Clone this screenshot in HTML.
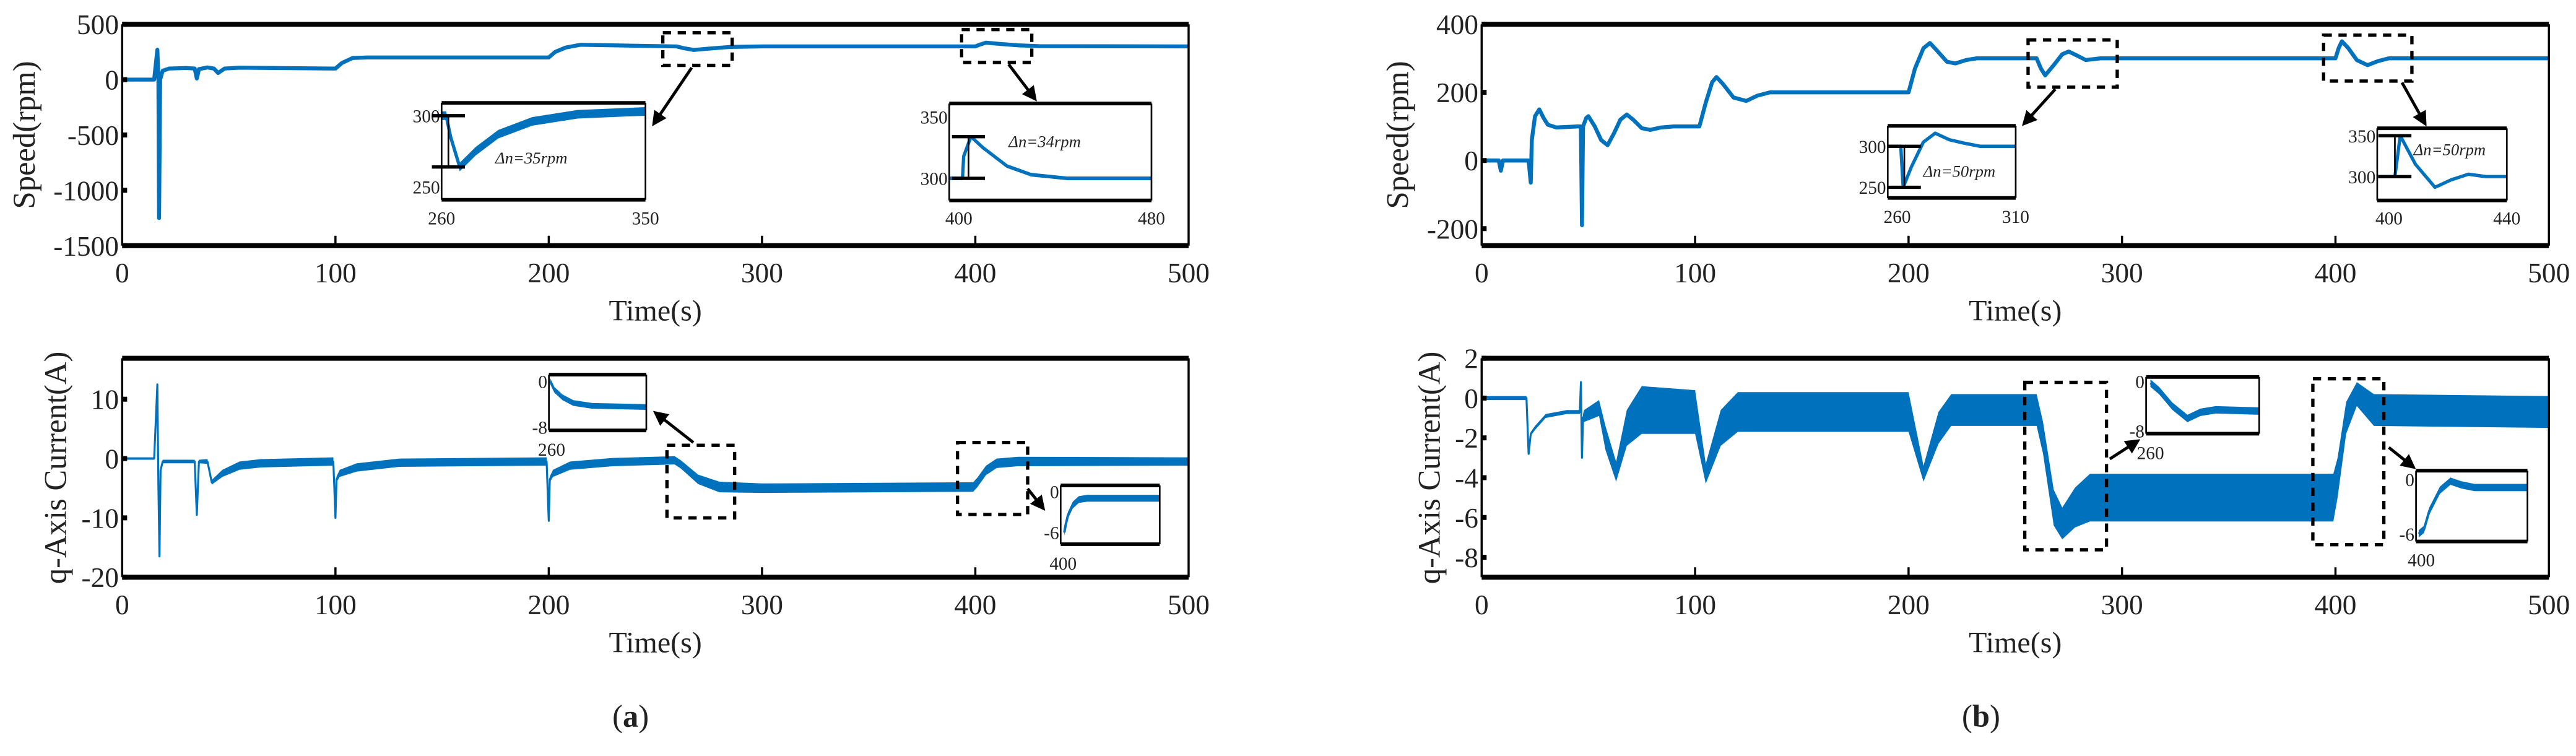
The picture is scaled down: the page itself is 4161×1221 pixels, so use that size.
<!DOCTYPE html>
<html><head><meta charset="utf-8"><style>
html,body{margin:0;padding:0;background:#fff;}
svg{display:block;}
text{font-family:"Liberation Serif",serif;fill:#222;}
</style></head><body>
<svg id="fig" width="4161" height="1221" viewBox="0 0 1560.4 457.9" preserveAspectRatio="none" xmlns="http://www.w3.org/2000/svg">
<defs><marker id="ah" viewBox="0 0 10 10" refX="8" refY="5" markerWidth="5" markerHeight="5" orient="auto"><path d="M0,0 L10,5 L0,10 z" fill="#000"/></marker></defs>
<text x="382" y="440" font-size="19" text-anchor="middle">(<tspan font-weight="bold">a</tspan>)</text>
<text x="1200" y="440" font-size="19" text-anchor="middle">(<tspan font-weight="bold">b</tspan>)</text>
</svg>
<script>
// ---- data: speed (a)
const speedA_t=[0,15,16.5,17,17.3,17.8,19,22,30,34,35,36,40,43,45,48,55,99,100,103,108,115,199,200,203,208,215,259,260,263,268,275,285,300,399,400,402,405,412,420,430,500];
const speedA_v=[0,0,270,0,-1250,0,80,100,105,100,10,95,110,100,60,100,108,100,100,150,195,200,200,200,250,290,315,300,300,285,268,280,295,300,300,300,315,334,322,310,302,300];
// ---- data: speed (b)
const speedB_t=[0,8,9,10,22,23,23.5,25,27,29,31,35,45,46.5,47,47.5,49,50,53,56,59,62,65,68,71,75,79,84,90,102,105,108,110,113,118,124,129,135,200,203,207,210,213,218,222,227,232,260,262,264,268,272,275,279,283,290,400,401.5,403,406,410,415,420,425,500];
const speedB_v=[0,0,-30,0,0,-65,60,130,150,125,105,97,100,100,-190,100,125,130,100,60,45,80,120,135,120,95,90,97,100,100,170,230,245,225,185,175,190,200,200,270,330,345,325,290,285,295,300,300,270,250,280,312,320,308,295,300,300,330,350,330,295,280,292,300,300];
// ---- data: current (a)
const curA_t=[0,15,16.5,17,17.5,18,19,20,34,35,36,40,42,47,55,65,99,100,100.5,102,110,130,199,200,200.5,202,210,230,259,262,270,280,300,399,401,405,410,420,500];
const curA_v=[0,0,12.5,-5,-16.5,-2,-0.5,-0.5,-0.5,-9.5,-0.5,-0.5,-4,-2.5,-1.2,-0.8,-0.5,-10,-3.5,-2.5,-1.5,-0.7,-0.5,-10.5,-3.5,-2.5,-1.2,-0.6,-0.3,-1,-3.5,-4.8,-5,-4.8,-4,-2,-0.8,-0.5,-0.5];
const curA_amp=[0.2,0.2,0.2,0.2,0.2,0.2,0.3,0.3,0.3,0.2,0.3,0.4,0.4,0.6,0.7,0.7,0.7,0.2,0.5,0.6,0.7,0.7,0.7,0.2,0.5,0.6,0.7,0.7,0.7,0.7,0.8,0.9,0.8,0.8,0.8,0.8,0.8,0.8,0.7];
// ---- data: current (b)
const curB_t=[0,21,22,23,25,30,40,46,46.5,47,47.5,48,55,58,63,68,75,100,105,112,120,200,207,214,220,260,263,268,272,278,285,300,399,401,405,410,418,500];
const curB_v=[0,0,-2.8,-1.8,-1.5,-0.9,-0.7,-0.7,0.8,-3,-1,-0.9,-0.5,-2,-3.7,-1.5,-0.6,-0.7,-3.8,-1.5,-0.7,-0.7,-3.8,-1.5,-0.6,-0.6,-2,-5.5,-6.3,-5.5,-5,-5,-5,-4,-1,0.2,-0.6,-0.7];
const curB_amp=[0.1,0.1,0.1,0.1,0.1,0.1,0.1,0.1,0.1,0.1,0.2,0.3,0.4,0.6,0.5,0.9,1.2,1.1,0.5,0.9,1.0,1.0,0.4,0.8,0.8,0.8,0.8,0.9,0.8,1.0,1.2,1.2,1.2,1.0,0.8,0.6,0.8,0.8];
// ---- inset data
const insA1_t=[260,262,264,268,275,285,300,320,350];
const insA1_v=[300,300,285,264,275,287,296,301,303];
const insA2_t=[396,400,401.5,402,405,410,420,430,445,480];
const insA2_v=[300,300,300,318,334,325,310,303,300,300];
const insB1_t=[256,261.5,262.5,266,271,276,282,288,295,310];
const insB1_v=[300,300,250,275,305,316,308,304,300,300];
const insB2_t=[396,402,403.8,409,415.6,421,427,433,440];
const insB2_v=[300,300,350,315,287,296,303,300,300];
const insCA1_t=[259,262,268,276,290,330];
const insCA1_v=[0,-1.5,-2.8,-3.8,-4.3,-4.5];
const insCA2_t=[401,402,404,408,413,420,480];
const insCA2_v=[-6,-5,-3.5,-2,-1.2,-1,-1];
const insCB1_t=[260,264,270,277,283,290,310];
const insCB1_v=[-0.3,-1.5,-4,-6,-5,-4.6,-4.8];
const insCB2_t=[399,401,403,407,411,415,420,440];
const insCB2_v=[-6,-5.5,-3.5,-1.2,-0.2,-0.6,-0.9,-0.9];
const xTicks=[0,100,200,300,400,500];
const speedA_ticks=[500,0,-500,-1000,-1500];
const speedB_ticks=[400,200,0,-200];
const curA_ticks=[10,0,-10,-20];
const curB_ticks=[2,0,-2,-4,-6,-8];

const NS='http://www.w3.org/2000/svg';
const svg=document.getElementById('fig');
const BLUE='#0072BD';
function mk(tag,attrs,name,parent){
  const el=document.createElementNS(NS,tag);
  for(const k in attrs) el.setAttribute(k,attrs[k]);
  
  
  (parent||svg).appendChild(el);
  return el;
}
function scale(d0,d1,r0,r1){return v=>r0+(v-d0)/(d1-d0)*(r1-r0);}
function linePath(ts,vs,sx,sy){return ts.map((t,i)=>(i?'L':'M')+sx(t).toFixed(2)+','+sy(vs[i]).toFixed(2)).join(' ');}
function bandPath(ts,vs,amp,sx,sy){
  let p=ts.map((t,i)=>(i?'L':'M')+sx(t).toFixed(2)+','+sy(vs[i]+amp[i]).toFixed(2)).join(' ');
  for(let i=ts.length-1;i>=0;i--) p+=' L'+sx(ts[i]).toFixed(2)+','+sy(vs[i]-amp[i]).toFixed(2);
  return p+' Z';
}
function text(x,y,s,size,name,anchor,extra){
  const t=mk('text',Object.assign({x:x,y:y,'font-size':size,'text-anchor':anchor||'middle'},extra||{}),name);
  t.textContent=s;return t;
}
function panel(o){
  const sx=scale(0,500,o.x0,o.x1), sy=scale(o.ymin,o.ymax,o.y1,o.y0);
  if(o.amp) mk('path',{d:bandPath(o.t,o.v,o.amp,sx,sy),fill:BLUE,stroke:'none'},o.id+'-noise-band');
  mk('path',{d:linePath(o.t,o.v,sx,sy),fill:'none',stroke:BLUE,'stroke-width':o.amp?1.2:2.4,'stroke-linejoin':'round'},o.id+'-series-line');
  mk('line',{x1:o.x0,y1:o.y0,x2:o.x1,y2:o.y0,stroke:'#000','stroke-width':3},o.id+'-top-border');
  mk('line',{x1:o.x0,y1:o.y1,x2:o.x1,y2:o.y1,stroke:'#000','stroke-width':3},o.id+'-x-axis');
  mk('line',{x1:o.x0,y1:o.y0,x2:o.x0,y2:o.y1,stroke:'#000','stroke-width':1.3},o.id+'-y-axis');
  mk('line',{x1:o.x1,y1:o.y0,x2:o.x1,y2:o.y1,stroke:'#000','stroke-width':1.3},o.id+'-right-border');
  xTicks.forEach(t=>{
    if(t>0&&t<500) mk('line',{x1:sx(t),y1:o.y1,x2:sx(t),y2:o.y1-6,stroke:'#000','stroke-width':1.3},o.id+'-x-tick');
    text(sx(t),o.xl,String(t),17,o.id+'-x-tick-label');
  });
  o.ticks.forEach(v=>{
    mk('line',{x1:o.x0,y1:sy(v),x2:o.x0+3,y2:sy(v),stroke:'#000','stroke-width':3},o.id+'-y-tick');
    text(o.x0-2,sy(v)+6,String(v),17,o.id+'-y-tick-label','end');
  });
  text((o.x0+o.x1)/2,o.xl+23,'Time(s)',18,o.id+'-x-axis-title');
  text(0,0,o.ylabel,19,o.id+'-y-axis-title','middle',{transform:'translate('+o.ylx+','+((o.y0+o.y1)/2)+') rotate(-90)'});
  return {sx,sy};
}
function dashBox(x0,y0,x1,y1,name){mk('rect',{x:x0,y:y0,width:x1-x0,height:y1-y0,fill:'none',stroke:'#000','stroke-width':2,'stroke-dasharray':'5,4'},name);}
function arrow(x0,y0,x1,y1,name){mk('line',{x1:x0,y1:y0,x2:x1,y2:y1,stroke:'#000','stroke-width':1.8,'marker-end':'url(#ah)'},name);}
function inset(o){
  const sx=scale(o.xd[0],o.xd[1],o.x0,o.x1), sy=scale(o.yd[0],o.yd[1],o.y1,o.y0);
  mk('rect',{x:o.x0,y:o.y0,width:o.x1-o.x0,height:o.y1-o.y0,fill:'#fff',stroke:'none'},o.id+'-background');
  if(o.amp) mk('path',{d:bandPath(o.t,o.v,o.t.map(()=>o.amp),sx,sy),fill:BLUE},o.id+'-noise-band');
  mk('path',{d:linePath(o.t,o.v,sx,sy),fill:'none',stroke:BLUE,'stroke-width':o.lw||2,'stroke-linejoin':'round'},o.id+'-series-line');
  mk('line',{x1:o.x0,y1:o.y0,x2:o.x1,y2:o.y0,stroke:'#000','stroke-width':2.2},o.id+'-top-border');
  mk('line',{x1:o.x0,y1:o.y1,x2:o.x1,y2:o.y1,stroke:'#000','stroke-width':2.2},o.id+'-bottom-border');
  mk('line',{x1:o.x0,y1:o.y0,x2:o.x0,y2:o.y1,stroke:'#000','stroke-width':1},o.id+'-left-border');
  mk('line',{x1:o.x1,y1:o.y0,x2:o.x1,y2:o.y1,stroke:'#000','stroke-width':1},o.id+'-right-border');
  o.yt.forEach(v=>text(o.x0-1,sy(v)+4,String(v),11,o.id+'-y-tick-label','end'));
  o.xt.forEach(t=>text(sx(t),o.xly,String(t),11,o.id+'-x-tick-label'));
  if(o.dn){
    const xa=sx(o.dn.t);
    mk('line',{x1:xa-10,y1:sy(o.dn.a),x2:xa+10,y2:sy(o.dn.a),stroke:'#000','stroke-width':2},o.id+'-delta-bar-top');
    mk('line',{x1:xa-10,y1:sy(o.dn.b),x2:xa+10,y2:sy(o.dn.b),stroke:'#000','stroke-width':2},o.id+'-delta-bar-bottom');
    mk('line',{x1:xa,y1:sy(o.dn.a)+1,x2:xa,y2:sy(o.dn.b)-1,stroke:'#000','stroke-width':1},o.id+'-delta-arrow');
    text(o.dn.lx,o.dn.ly,o.dn.s,10,o.id+'-delta-label','start',{'font-style':'italic'});
  }
}
panel({id:'speed-a',x0:74,x1:720,y0:14.7,y1:148.8,ymin:-1500,ymax:500,t:speedA_t,v:speedA_v,ticks:speedA_ticks,xl:171,ylabel:'Speed(rpm)',ylx:21});
panel({id:'current-a',x0:74,x1:720,y0:217,y1:349.6,ymin:-20,ymax:16.9,t:curA_t,v:curA_v,amp:curA_amp,ticks:curA_ticks,xl:372,ylabel:'q-Axis Current(A)',ylx:40});
panel({id:'speed-b',x0:897.5,x1:1544,y0:14.7,y1:148.8,ymin:-250,ymax:400,t:speedB_t,v:speedB_v,ticks:speedB_ticks,xl:171,ylabel:'Speed(rpm)',ylx:853});
panel({id:'current-b',x0:897.5,x1:1544,y0:217,y1:349.6,ymin:-9,ymax:2,t:curB_t,v:curB_v,amp:curB_amp,ticks:curB_ticks,xl:372,ylabel:'q-Axis Current(A)',ylx:872});
dashBox(401.5,19.8,443.5,39.6,'speed-a-zoom-box-260');
dashBox(582.5,17.9,625,37.8,'speed-a-zoom-box-400');
arrow(419,41,396,75,'speed-a-zoom-arrow-1');
arrow(611,39,627,60,'speed-a-zoom-arrow-2');
dashBox(404,269.7,445,313.7,'current-a-zoom-box-260');
dashBox(580,268,622.5,311.6,'current-a-zoom-box-400');
arrow(420,268,397,250,'current-a-zoom-arrow-1');
arrow(622.5,296,632,308,'current-a-zoom-arrow-2');
dashBox(1228.5,24.2,1282.5,52.8,'speed-b-zoom-box-260');
dashBox(1407.5,21.3,1461,49.1,'speed-b-zoom-box-400');
arrow(1245,54,1226,75,'speed-b-zoom-arrow-1');
arrow(1455,50,1469,75,'speed-b-zoom-arrow-2');
dashBox(1226.5,231.6,1276,333,'current-b-zoom-box-260');
dashBox(1401,229.4,1444,329.9,'current-b-zoom-box-400');
arrow(1278,278,1295,267,'current-b-zoom-arrow-1');
arrow(1447,271,1462,283,'current-b-zoom-arrow-2');
inset({id:'speed-a-inset-1',x0:267.5,x1:391,y0:62.3,y1:121,xd:[260,350],yd:[241,309],t:insA1_t,v:insA1_v,amp:3,lw:2,yt:[300,250],xt:[260,350],xly:136,dn:{t:263,a:300,b:264,s:'Δn=35rpm',lx:300,ly:99}});
inset({id:'speed-a-inset-2',x0:575,x1:697.5,y0:62.7,y1:121.4,xd:[396,480],yd:[282,361],t:insA2_t,v:insA2_v,amp:1.5,yt:[350,300],xt:[400,480],xly:136,dn:{t:404,a:334,b:300,s:'Δn=34rpm',lx:611,ly:89}});
inset({id:'speed-b-inset-1',x0:1143.5,x1:1221,y0:76.2,y1:119.9,xd:[256,310],yd:[237,325],t:insB1_t,v:insB1_v,amp:2,yt:[300,250],xt:[260,310],xly:135,dn:{t:263,a:300,b:250,s:'Δn=50rpm',lx:1165,ly:107}});
inset({id:'speed-b-inset-2',x0:1440,x1:1518.5,y0:77.7,y1:121.4,xd:[396,440],yd:[271,359],t:insB2_t,v:insB2_v,amp:2,yt:[350,300],xt:[400,440],xly:136,dn:{t:402,a:350,b:300,s:'Δn=50rpm',lx:1462,ly:94}});
inset({id:'current-a-inset-1',x0:332.5,x1:391.5,y0:226.9,y1:260.7,xd:[258,330],yd:[-8.58,1.15],t:insCA1_t,v:insCA1_v,amp:0.5,lw:1.5,yt:[0,-8],xt:[260],xly:276});
inset({id:'current-a-inset-2',x0:642.5,x1:702.5,y0:294,y1:329.6,xd:[398,480],yd:[-7.7,0.87],t:insCA2_t,v:insCA2_v,amp:0.5,lw:1.5,yt:[0,-6],xt:[400],xly:345});
inset({id:'current-b-inset-1',x0:1300,x1:1368.5,y0:228.3,y1:262.7,xd:[258,310],yd:[-8.45,0.7],t:insCB1_t,v:insCB1_v,amp:0.6,lw:1.5,yt:[0,-8],xt:[260],xly:278});
inset({id:'current-b-inset-2',x0:1463.5,x1:1531,y0:285.1,y1:328,xd:[398,440],yd:[-6.85,0.95],t:insCB2_t,v:insCB2_v,amp:0.4,lw:1.5,yt:[0,-6],xt:[400],xly:343});
</script>
</body></html>
